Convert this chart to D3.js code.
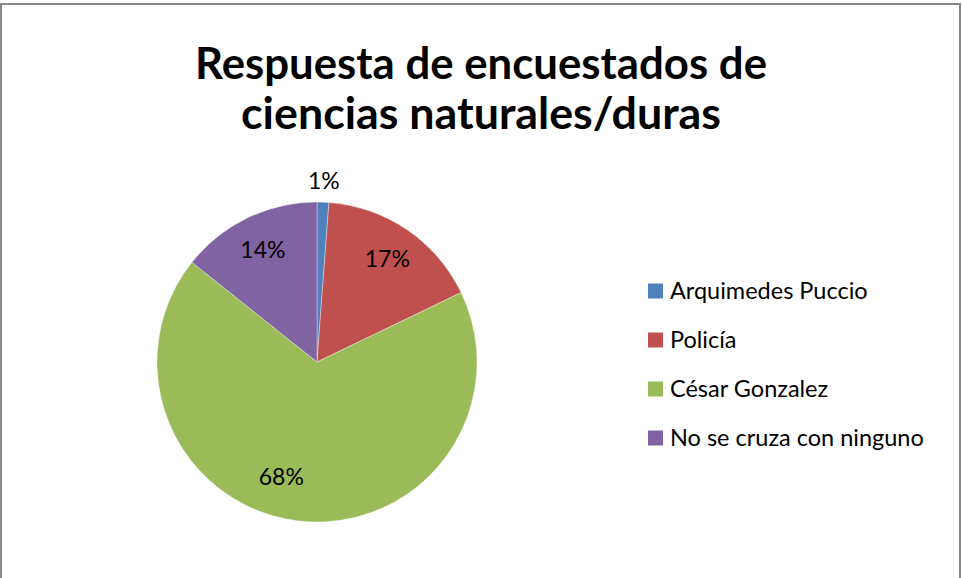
<!DOCTYPE html>
<html>
<head>
<meta charset="utf-8">
<script src="https://cdn.jsdelivr.net/npm/d3@7"></script>
<style>
  html, body { margin: 0; padding: 0; background: #fff; }
  text { font-family: Lato, "Open Sans", sans-serif; fill: #000; }
</style>
</head>
<body>
<div id="chart"></div>
<script>

  /**
   * Data
   */

  const categories = ['Arquimedes Puccio', 'Policía', 'César Gonzalez', 'No se cruza con ninguno'];
  const counts = [1, 14, 57, 12];
  const colors = ['#4F81BD', '#C0504D', '#9BBB59', '#8064A2'];
  const titleLines = ['Respuesta de encuestados de', 'ciencias naturales/duras'];



  /**
   * Helpers
   */

  /**
   * Scales the font of a text node so that it spans the wanted width.
   */
  function fitText(node, width) {
    const size = parseFloat(node.getAttribute('font-size'));
    const len = node.getComputedTextLength();
    node.setAttribute('font-size', (size * width / len).toFixed(2));
  }


  /**
   * Chart
   */

  const width = 962;
  const height = 578;

  const svg = d3.select('#chart')
                .append('svg')
                .attr('width', width)
                .attr('height', height);

  // outer frame, bottom edge falls off the picture
  svg.append('rect')
     .attr('x', 1)
     .attr('y', 4)
     .attr('width', width - 3)
     .attr('height', height + 20)
     .attr('fill', '#fff')
     .attr('stroke', '#868686')
     .attr('stroke-width', 2);

  // title
  const titleWidths = [572, 480];
  svg.append('g')
     .selectAll('text')
     .data(titleLines)
     .enter()
     .append('text')
     .attr('x', 481)
     .attr('y', (d, i) => 79 + i * 50)
     .attr('text-anchor', 'middle')
     .attr('font-size', 40)
     .attr('font-weight', 'bold')
     .text(d => d)
     .each(function(d, i) { fitText(this, titleWidths[i]); });

  // pie
  const cx = 317;
  const cy = 362;
  const radius = 160;

  const total = d3.sum(counts);
  const pie = d3.pie().sort(null).value(d => d.value);
  const slices = pie(categories.map((name, i) => ({ name, value: counts[i], color: colors[i] })));

  const arc = d3.arc().innerRadius(0).outerRadius(radius);

  const g = svg.append('g').attr('transform', `translate(${cx},${cy})`);

  g.selectAll('path')
   .data(slices)
   .enter()
   .append('path')
   .attr('d', arc)
   .attr('fill', d => d.data.color)
   .attr('stroke', '#fff')
   .attr('stroke-width', 0.6)
   .attr('stroke-opacity', 0.6);

  // percentage labels; the tiny slice gets its label outside, the big one is nudged like Excel does
  function labelPos(d) {
    const share = d.data.value / total;
    let angle = (d.startAngle + d.endAngle) / 2;
    let dist = radius * 0.78;
    if (share < 0.05) dist = radius + 21;
    if (share > 0.5) { angle += 0.19; dist = radius * 0.75; }
    return [Math.sin(angle) * dist, -Math.cos(angle) * dist];
  }

  g.selectAll('text')
   .data(slices)
   .enter()
   .append('text')
   .attr('x', d => labelPos(d)[0])
   .attr('y', d => labelPos(d)[1])
   .attr('dy', '0.35em')
   .attr('text-anchor', 'middle')
   .attr('font-size', 23)
   .text(d => d3.format('.0%')(d.data.value / total));

  // legend
  const legend = svg.append('g')
                    .attr('transform', 'translate(648,291)');

  const rows = legend.selectAll('g')
                     .data(categories)
                     .enter()
                     .append('g')
                     .attr('transform', (d, i) => `translate(0,${i * 49})`);

  rows.append('rect')
      .attr('x', 0)
      .attr('y', -7.5)
      .attr('width', 15)
      .attr('height', 15)
      .attr('fill', (d, i) => colors[i]);

  rows.append('text')
      .attr('x', 22)
      .attr('y', 0)
      .attr('dy', '0.36em')
      .attr('font-size', 23.5)
      .text(d => d);

</script>
</body>
</html>
